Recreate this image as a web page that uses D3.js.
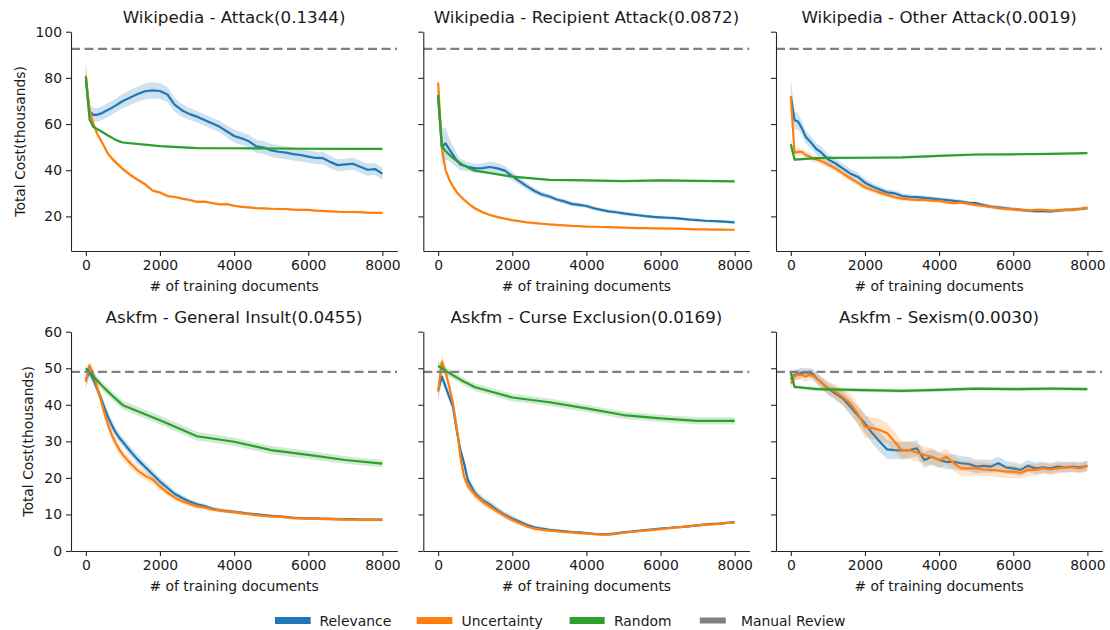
<!DOCTYPE html>
<html><head><meta charset="utf-8">
<script src="https://cdn.jsdelivr.net/npm/d3@7"></script>
<style>
body{margin:0;background:#fff}
svg{display:block}
text{font-family:"DejaVu Sans",sans-serif;fill:#1a1a1a}
</style>
</head><body>
<svg id="chart" width="1110" height="630"></svg>
<script>
// ---------------- DATA ----------------
const docs = [0,100,200,300,400,500,600,700,800,900,1000,1200,1400,1600,1800,2000,2200,2400,2600,2800,3000,3200,3400,3600,3800,4000,4200,4400,4600,4800,5000,5200,5400,5600,5800,6000,6200,6400,6600,6800,7000,7200,7400,7600,7800,8000];
const randomDocs = [0,100,200,300,400,500,600,700,800,900,1000,2000,3000,4000,5000,6000,7000,8000];

const titles = ["Wikipedia - Attack(0.1344)","Wikipedia - Recipient Attack(0.0872)","Wikipedia - Other Attack(0.0019)",
                "Askfm - General Insult(0.0455)","Askfm - Curse Exclusion(0.0169)","Askfm - Sexism(0.0030)"];
const seriesNames = ["Relevance","Uncertainty","Random","Manual Review"];
const manualReview = [92.6, 92.6, 92.6, 49.0, 49.0, 49.0];
const xTicks = [0,2000,4000,6000,8000];
const yTicksTop = [20,40,60,80,100];
const yTicksBottom = [0,10,20,30,40,50,60];

// Wikipedia - Attack
const p1Relevance = [79,65.5,64,64,64.5,65.3,66.2,67,68,69,70,71.5,73,74.2,74.6,74.3,72.8,68.3,65.9,64.3,63.2,61.7,60.3,58.9,56.9,54.8,53.8,52.5,50.3,49.8,48.6,48,47.6,47,46.6,45.9,45.3,45.2,43.5,42.2,42.5,42.8,41.5,40.2,40.5,38.5];
const p1RelevanceBand = [8,3,3,3,3,3,3,3,3,3,3,3.2,3.3,3.5,3.5,3.5,3.2,3,2.8,2.6,2.5,2.5,2.5,2.5,2.6,2.8,2.8,2.8,2.8,2.8,2.8,2.8,2.8,2.8,2.8,2.7,2.7,2.7,2.6,2.6,2.6,2.6,2.6,2.6,2.6,2.6];
const p1Uncertainty = [81,66,60.3,56,53.1,50.2,47,45.2,43.5,42,40.5,38,35.8,33.9,31.2,30.3,28.8,28.4,27.7,27.1,26.3,26.4,25.8,25.2,25.3,24.6,24.1,23.9,23.6,23.5,23.3,23.2,23.2,22.9,22.8,22.8,22.5,22.4,22.2,22.0,21.9,21.9,21.8,21.6,21.5,21.5];
const p1UncertaintyBand = [6,2,1.2,1,1,0.9,0.9,0.9,0.9,0.9,0.9,0.8,0.8,0.8,0.8,0.7,0.7,0.6,0.6,0.6,0.5,0.5,0.5,0.5,0.5,0.5,0.5,0.5,0.5,0.5,0.5,0.5,0.5,0.5,0.5,0.5,0.5,0.5,0.5,0.5,0.5,0.5,0.5,0.5,0.5,0.5];
const p1Random = [80.5,62,58.8,57.9,57,56,55,54.1,53.2,52.5,52,50.4,49.6,49.5,49.4,49.3,49.2,49.2];
const p1RandomBand = [2,0.8,0.6,0.5,0.5,0.5,0.5,0.5,0.5,0.5,0.5,0.4,0.4,0.4,0.4,0.4,0.4,0.4];

// Wikipedia - Recipient Attack
const p2Relevance = [72,50.2,51.6,49,46.6,44.3,42.5,42,41.5,41.1,40.8,40.9,41.4,40.8,39.8,37.4,35.2,33,31,29.5,28.6,27.3,26.5,25.4,25,24.5,23.5,22.8,22.2,21.8,21.3,20.9,20.5,20.1,19.8,19.6,19.4,19.2,18.9,18.6,18.4,18.1,18,17.8,17.6,17.4];
const p2RelevanceBand = [8,8,7,5,4,3,2.5,2.2,2,2,2,2,2.4,2.4,2,1.8,1.6,1.5,1.3,1.2,1.1,1,1,1,0.9,0.9,0.9,0.8,0.8,0.8,0.8,0.8,0.7,0.7,0.7,0.7,0.7,0.7,0.6,0.6,0.6,0.6,0.6,0.6,0.6,0.6];
const p2Uncertainty = [78,50,40,36,33,30.5,28.8,27.2,25.8,24.5,23.4,21.8,20.6,19.7,19,18.4,17.9,17.4,17.1,16.8,16.5,16.3,16.1,15.9,15.8,15.6,15.5,15.4,15.3,15.2,15.1,15.0,14.9,14.9,14.8,14.8,14.7,14.7,14.6,14.5,14.4,14.4,14.3,14.3,14.2,14.2];
const p2UncertaintyBand = [4,2,1.2,1,0.9,0.9,0.8,0.8,0.8,0.8,0.7,0.7,0.6,0.6,0.5,0.5,0.5,0.5,0.4,0.4,0.4,0.4,0.4,0.4,0.4,0.4,0.4,0.4,0.4,0.4,0.4,0.4,0.4,0.4,0.4,0.4,0.4,0.4,0.4,0.4,0.4,0.4,0.4,0.4,0.4,0.4];
const p2Random = [72.6,50.5,48.3,46.7,45.3,44.1,43,42,41.2,40.4,39.8,37.2,35.8,35.6,35.3,35.6,35.4,35.2];
const p2RandomBand = [4,1,0.6,0.5,0.5,0.5,0.5,0.5,0.4,0.4,0.4,0.4,0.4,0.4,0.4,0.4,0.4,0.4];

// Wikipedia - Other Attack
const p3Relevance = [72,61.7,61,58.1,54.5,52.8,50.9,49,48,46.4,44.7,43,40.8,38.6,37.2,34.6,32.9,31.6,30.4,30,28.8,28.5,28.3,28,27.7,27.4,27.1,26.7,26.4,25.9,25.7,24.9,24.2,23.9,23.5,23.1,22.8,22.5,22.3,22.3,22.2,22.5,22.8,22.9,23.2,23.6];
const p3RelevanceBand = [8,4,3.5,3,2.8,2.6,2.5,2.5,2.5,2.4,2.3,2.2,2,2,1.9,1.8,1.6,1.5,1.4,1.3,1.2,1.1,1,1,1,0.9,0.9,0.9,0.9,0.8,0.8,0.8,0.8,0.8,0.8,0.8,0.8,0.8,0.8,0.8,0.8,0.8,0.8,0.8,0.8,0.8];
const p3Uncertainty = [71.8,47.5,48,47.9,46.6,45.9,45.1,44.7,44.1,43.3,42.5,40.8,38.6,36.5,34.6,32.6,31.4,30.3,29.3,28.3,27.7,27.4,27.1,27.1,26.8,26.7,26.1,25.7,26,25.4,24.9,24.5,24.1,23.6,23.2,23.1,22.8,22.5,22.8,22.8,22.5,22.6,22.8,22.9,23.2,23.8];
const p3UncertaintyBand = [2,1.6,1.5,1.5,1.5,1.5,1.5,1.4,1.4,1.4,1.3,1.3,1.3,1.2,1.2,1.2,1.1,1.1,1,1,0.9,0.9,0.9,0.8,0.8,0.8,0.7,0.7,0.7,0.7,0.7,0.7,0.7,0.7,0.7,0.7,0.7,0.7,0.7,0.7,0.7,0.7,0.7,0.7,0.7,0.7];
const p3Random = [51.3,44.6,44.7,44.8,44.9,45,45.1,45.2,45.2,45.3,45.3,45.4,45.6,46.2,46.8,46.9,47.1,47.4];
const p3RandomBand = [2.5,0.6,0.5,0.5,0.5,0.5,0.5,0.5,0.5,0.5,0.5,0.5,0.5,0.5,0.5,0.5,0.5,0.5];

// Askfm - General Insult
const p4Relevance = [47,49,47,44.5,42,39.3,36.6,34.5,32.5,31,29.8,27.3,25,23,21,19,17.3,15.6,14.5,13.5,12.8,12.3,11.6,11.2,10.9,10.7,10.5,10.2,10,9.8,9.6,9.5,9.3,9.1,9,8.9,8.9,8.8,8.8,8.7,8.7,8.7,8.6,8.6,8.6,8.6];
const p4RelevanceBand = [2.5,1.5,1.4,1.4,1.4,1.4,1.4,1.4,1.3,1.3,1.3,1.3,1.3,1.2,1.2,1.1,1,0.9,0.8,0.7,0.6,0.6,0.5,0.5,0.5,0.5,0.4,0.4,0.4,0.4,0.4,0.4,0.4,0.4,0.4,0.4,0.4,0.4,0.4,0.4,0.4,0.4,0.4,0.4,0.4,0.4];
const p4Uncertainty = [46.3,50.8,48.5,45,41.5,37.8,34.5,31.8,29.6,27.8,26.3,24,22,20.6,19.6,17.6,16,14.6,13.6,12.9,12.2,11.9,11.4,11.1,10.8,10.7,10.3,10.1,9.8,9.6,9.4,9.4,9.2,9.0,8.9,8.9,8.8,8.8,8.7,8.7,8.6,8.6,8.5,8.5,8.5,8.5];
const p4UncertaintyBand = [2,1.2,1.3,1.4,1.4,1.5,1.5,1.5,1.4,1.4,1.3,1.3,1.2,1.2,1.1,1,0.9,0.8,0.7,0.7,0.6,0.6,0.5,0.5,0.5,0.5,0.4,0.4,0.4,0.4,0.4,0.4,0.4,0.4,0.4,0.4,0.4,0.4,0.4,0.4,0.4,0.4,0.4,0.4,0.4,0.4];
const p4Random = [50,48.9,47.8,46.7,45.6,44.6,43.6,42.6,41.7,40.8,39.9,35.8,31.4,29.9,27.6,26.3,24.9,23.9];
const p4RandomBand = [1,1,1.1,1.1,1.1,1.2,1.2,1.2,1.2,1.2,1.2,1.2,1.2,1.1,1.1,1.1,1,1];

// Askfm - Curse Exclusion
const p5Relevance = [44,47.7,45,42.2,39.5,33.1,27.6,24,19.4,17.6,15.8,13.9,12.7,11.2,9.9,8.9,8,7.1,6.5,6.1,5.8,5.6,5.4,5.2,5.1,4.9,4.7,4.6,4.6,4.8,5.1,5.3,5.5,5.7,5.9,6.1,6.3,6.5,6.6,6.8,7.0,7.2,7.4,7.5,7.7,7.9];
const p5RelevanceBand = [3,1.5,1.3,1.3,1.3,1.4,1.5,1.5,1.3,1.2,1.1,1,1,0.9,0.9,0.8,0.7,0.6,0.5,0.5,0.4,0.4,0.4,0.4,0.4,0.3,0.3,0.3,0.3,0.3,0.3,0.3,0.3,0.3,0.3,0.3,0.3,0.3,0.3,0.3,0.3,0.3,0.3,0.3,0.3,0.3];
const p5Uncertainty = [43.6,51.8,49,45,40.4,34,25.8,20.3,17.8,16.5,15.3,13.5,12.1,10.8,9.6,8.5,7.6,6.7,6.1,5.8,5.6,5.4,5.2,5.1,4.9,4.8,4.6,4.5,4.5,4.7,5.0,5.2,5.4,5.6,5.8,6.0,6.2,6.4,6.6,6.8,7.0,7.2,7.3,7.5,7.7,7.8];
const p5UncertaintyBand = [2,2,1.6,1.5,1.5,1.6,1.6,1.5,1.3,1.2,1.1,1,0.9,0.8,0.8,0.7,0.6,0.5,0.5,0.4,0.4,0.4,0.4,0.4,0.4,0.3,0.3,0.3,0.3,0.3,0.3,0.3,0.3,0.3,0.3,0.3,0.3,0.3,0.3,0.3,0.3,0.3,0.3,0.3,0.3,0.3];
const p5Random = [50.6,50,49.3,48.7,48.1,47.5,46.9,46.3,45.8,45.3,44.8,42,40.7,39,37.2,36.3,35.6,35.6];
const p5RandomBand = [1.5,1.1,1,1,1,1,1,1,1,1,1,1,1,1,1,1,1,1];

// Askfm - Sexism
const p6Relevance = [47,48.2,48.4,48.8,48.8,48.8,48.4,47.2,46.3,45.4,44.5,43.1,41.8,39.5,37.2,34.9,32.2,29.9,27.8,27.6,27.5,27.6,28.1,24.9,25.8,24.9,24.4,24.4,24,23.8,23.1,23.3,23.1,24,22.9,22.6,22.2,23.3,22.6,22.9,22.6,23.1,22.9,23.1,22.9,23.3];
const p6RelevanceBand = [1.5,1.4,1.4,1.4,1.3,1.3,1.3,1.4,1.5,1.6,1.7,1.8,2,2.2,2.4,2.6,2.8,2.8,2.6,2.4,2.3,2.2,2.2,2.2,2.1,2,2,2,2,1.9,1.9,1.8,1.8,1.8,1.7,1.7,1.6,1.6,1.6,1.5,1.5,1.5,1.4,1.4,1.4,1.4];
const p6Uncertainty = [45.8,47.9,48.2,48.2,47.7,48.2,47.9,47.2,46.3,45.4,44.5,43.6,42.2,40.4,37.7,34,33.6,33.1,32.2,29.9,27.5,27.6,26.9,26.3,25.8,24.9,25.8,24,22.6,22.6,22.6,22.3,22.2,22,21.7,21.7,21.4,22.2,22.2,22.6,22.3,22.6,22.9,22.9,22.6,23.3];
const p6UncertaintyBand = [1.5,1.5,1.4,1.4,1.4,1.4,1.4,1.5,1.6,1.7,1.8,2,2.2,2.6,2.8,3,3,3,2.8,2.7,2.5,2.4,2.4,2.3,2.3,2.2,2.2,2.1,2,2,1.9,1.9,1.8,1.8,1.7,1.7,1.6,1.6,1.6,1.5,1.5,1.5,1.4,1.4,1.4,1.4];
const p6Random = [48.8,44.9,44.8,44.7,44.6,44.5,44.4,44.3,44.3,44.2,44.2,44.0,43.8,44.1,44.4,44.3,44.4,44.3];
const p6RandomBand = [1.5,0.6,0.5,0.5,0.5,0.5,0.5,0.5,0.5,0.5,0.5,0.5,0.5,0.5,0.5,0.5,0.5,0.5];

// ---------------- LAYOUT ----------------
const colors = ["#1f77b4","#ff7f0e","#2ca02c","#808080"];
const panelData = [
  [p1Relevance,p1RelevanceBand,p1Uncertainty,p1UncertaintyBand,p1Random,p1RandomBand],
  [p2Relevance,p2RelevanceBand,p2Uncertainty,p2UncertaintyBand,p2Random,p2RandomBand],
  [p3Relevance,p3RelevanceBand,p3Uncertainty,p3UncertaintyBand,p3Random,p3RandomBand],
  [p4Relevance,p4RelevanceBand,p4Uncertainty,p4UncertaintyBand,p4Random,p4RandomBand],
  [p5Relevance,p5RelevanceBand,p5Uncertainty,p5UncertaintyBand,p5Random,p5RandomBand],
  [p6Relevance,p6RelevanceBand,p6Uncertainty,p6UncertaintyBand,p6Random,p6RandomBand]
];
const colLeft = [71, 423.3, 776];
const panelW = 326.2;
const rowTop = [31.7, 331.7];
const panelH = 219.3;
const yDomains = [[5,100],[0,60]];
const yTickSets = [yTicksTop, yTicksBottom];
const yLabelX = [24.5, 33];

const svg = d3.select("#chart");
const tickFont = "13.9px";

panelData.forEach((pd, i) => {
  const row = Math.floor(i/3), col = i%3;
  const left = colLeft[col], top = rowTop[row];
  const x = d3.scaleLinear().domain([-400, 8400]).range([left, left+panelW]);
  const y = d3.scaleLinear().domain(yDomains[row]).range([top+panelH, top]);
  const g = svg.append("g");

  const series = [
    {xs: docs, v: pd[0], b: pd[1], c: colors[0]},
    {xs: docs, v: pd[2], b: pd[3], c: colors[1]},
    {xs: randomDocs, v: pd[4], b: pd[5], c: colors[2]}
  ];
  const clipId = "clip"+i;
  svg.append("clipPath").attr("id", clipId).append("rect")
    .attr("x", left).attr("y", top).attr("width", panelW).attr("height", panelH);
  const plot = g.append("g").attr("clip-path", `url(#${clipId})`);
  series.forEach(s => {
    const pts = s.xs.map((d,k) => ({d, v: s.v[k], b: s.b[k]}));
    plot.append("path").datum(pts)
      .attr("d", d3.area().x(p => x(p.d)).y0(p => y(p.v - p.b)).y1(p => y(p.v + p.b)))
      .attr("fill", s.c).attr("fill-opacity", 0.22).attr("stroke", "none");
    plot.append("path").datum(pts)
      .attr("d", d3.line().x(p => x(p.d)).y(p => y(p.v)))
      .attr("fill", "none").attr("stroke", s.c).attr("stroke-width", 2.2)
      .attr("stroke-linejoin", "round").attr("stroke-linecap", "butt");
  });
  // manual review
  plot.append("line")
    .attr("x1", left).attr("x2", left+panelW)
    .attr("y1", y(manualReview[i])).attr("y2", y(manualReview[i]))
    .attr("stroke", colors[3]).attr("stroke-width", 2.2).attr("stroke-dasharray", "9,4.5");

  // axes
  const xa = g.append("g").attr("transform", `translate(0,${top+panelH})`)
    .call(d3.axisBottom(x).tickValues(xTicks).tickSize(5).tickSizeOuter(0).tickPadding(4).tickFormat(d3.format("d")));
  const ya = g.append("g").attr("transform", `translate(${left},0)`)
    .call(d3.axisLeft(y).tickValues(yTickSets[row]).tickSize(5).tickSizeOuter(0).tickPadding(4)
      .tickFormat(col === 0 ? d3.format("d") : () => ""));
  [xa, ya].forEach(a => {
    a.selectAll("path.domain").attr("stroke", "#262626").attr("stroke-width", 1.1);
    a.selectAll(".tick line").attr("stroke", "#262626").attr("stroke-width", 1.1);
    a.selectAll(".tick text").style("font-size", tickFont).style("font-family", "DejaVu Sans").attr("fill", "#1a1a1a");
  });

  // titles and labels
  g.append("text").attr("x", left + panelW/2).attr("y", top - 8.5)
    .attr("text-anchor", "middle").style("font-size", "16.7px").text(titles[i]);
  g.append("text").attr("x", left + panelW/2).attr("y", top + panelH + 40)
    .attr("text-anchor", "middle").style("font-size", "13.9px").text("# of training documents");
  if (col === 0) {
    g.append("text")
      .attr("transform", `translate(${yLabelX[row]},${top + panelH/2}) rotate(-90)`)
      .attr("text-anchor", "middle").style("font-size", "13.9px").text("Total Cost(thousands)");
  }
});

// legend
const legendPatchX = [275, 416.7, 569.6, 699.8];
const legendPatchW = [35.7, 35.7, 35, 26];
const legendTextX = [319.5, 461.6, 614, 741];
const legendY = 620.5;
seriesNames.forEach((name, k) => {
  svg.append("rect").attr("x", legendPatchX[k]).attr("y", legendY - (k === 3 ? 3 : 3.5))
    .attr("width", legendPatchW[k]).attr("height", k === 3 ? 6 : 7).attr("fill", colors[k]);
  svg.append("text").attr("x", legendTextX[k]).attr("y", legendY + 5)
    .style("font-size", "13.9px").text(name);
});
</script>
</body></html>
